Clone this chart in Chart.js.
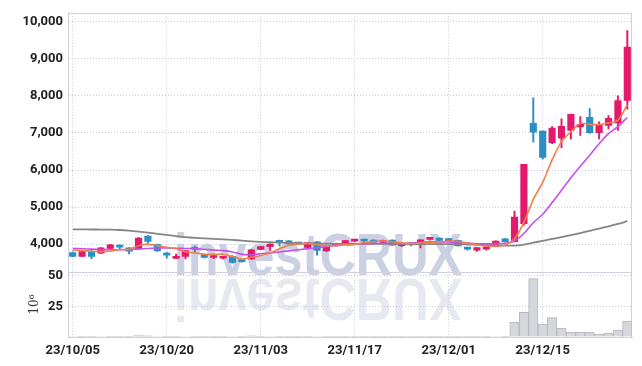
<!DOCTYPE html>
<html>
<head>
<meta charset="utf-8">
<script src="https://cdn.jsdelivr.net/npm/chart.js@4.4.0/dist/chart.umd.min.js"></script>
<style>
  html, body { margin: 0; padding: 0; background: #fff; }
</style>
</head>
<body>
<canvas id="myChart" width="642" height="366"></canvas>
<script>
// trading days shown on the x axis
var dates = ['23/10/05','23/10/06','23/10/10','23/10/11','23/10/12','23/10/13','23/10/16','23/10/17','23/10/18','23/10/19',
  '23/10/20','23/10/23','23/10/24','23/10/25','23/10/26','23/10/27','23/10/30','23/10/31','23/11/01','23/11/02',
  '23/11/03','23/11/06','23/11/07','23/11/08','23/11/09','23/11/10','23/11/13','23/11/14','23/11/15','23/11/16',
  '23/11/17','23/11/20','23/11/21','23/11/22','23/11/23','23/11/24','23/11/27','23/11/28','23/11/29','23/11/30',
  '23/12/01','23/12/04','23/12/05','23/12/06','23/12/07','23/12/08','23/12/11','23/12/12','23/12/13','23/12/14',
  '23/12/15','23/12/18','23/12/19','23/12/20','23/12/21','23/12/22','23/12/26','23/12/27','23/12/28','24/01/02'];

var opens  = [3776,3670,3795,3760,3885,3935,3900,3870,4220,3995, 3730,3615,3670,3875,3720,3640,3620,3670,3560,3600,
  3860,3935,4070,4090,4030,3910,4060,3815,3955,4010, 4080,4095,4110,4045,4110,3960,3990,3990,4130,4165,
  4150,4105,3880,3840,3865,3935,4145,4070,4550,7260, 7050,6740,6860,7065,7165,7420,7005,7200,7270,7880];
var highs  = [3790,3830,3860,3910,3995,3980,3910,4180,4230,4000, 3780,3730,3835,3950,3730,3720,3660,3690,3575,3860,
  3940,4010,4110,4100,4045,4045,4070,3925,4030,4100, 4100,4110,4115,4110,4115,4000,4040,4120,4170,4170,
  4160,4110,3910,3915,3930,4090,4150,4890,6150,7950, 7060,7170,7380,7510,7440,7660,7300,7470,8000,9760];
var lows   = [3655,3660,3610,3750,3880,3870,3740,3860,4030,3810, 3620,3612,3600,3780,3630,3610,3605,3490,3515,3590,
  3850,3830,3950,4000,3990,3905,3700,3805,3950,4005, 4060,4050,4045,4040,3970,3930,3955,3900,4110,4095,
  4075,3950,3840,3805,3840,3930,4060,4060,4515,6750, 6290,6710,6600,6830,6935,6990,6840,7110,7070,7640];
var closes = [3670,3800,3670,3900,3985,3920,3810,4165,4075,3815, 3705,3630,3830,3860,3640,3665,3650,3510,3530,3850,
  3935,4005,4050,4005,4005,4040,3830,3920,4025,4095, 4095,4085,4050,4090,3975,3985,3980,4115,4150,4100,
  4080,3955,3865,3910,3925,4085,4065,4730,6150,7020, 6340,7130,7180,7500,7235,7005,7215,7395,7875,9315];

// moving averages as drawn in the picture
var ma5  = [3840,3830,3810,3800,3810,3855,3860,3960,3995,3960, 3915,3875,3795,3765,3730,3725,3730,3665,3600,3645,
  3695,3765,3875,3970,4000,4020,3985,3960,3965,3980, 3990,4045,4070,4085,4060,4035,4015,4030,4045,4065,
  4085,4080,4030,3980,3945,3950,3970,4145,4590,5210, 5665,6275,6765,7035,7255,7230,7225,7270,7345,7760];
var ma10 = [3885,3875,3865,3855,3850,3848,3855,3870,3885,3895, 3900,3890,3885,3880,3862,3840,3825,3790,3725,3715,
  3740,3765,3790,3820,3850,3875,3905,3935,3965,3990, 4007,4015,4014,4023,4020,4014,4030,4050,4062,4063,
  4061,4048,4030,4012,4007,4017,4025,4087,4287,4579, 4805,5122,5454,5790,6100,6400,6710,6980,7170,7415];
var ma60 = [4400,4398,4396,4394,4390,4382,4365,4340,4310,4280, 4250,4215,4190,4170,4155,4142,4130,4115,4095,4075,
  4062,4052,4042,4032,4025,4020,4015,4012,4010,4010, 4010,4010,4010,4008,4006,4005,4004,4003,4002,4001,
  4000,3998,3990,3982,3975,3968,3962,3960,3990,4040, 4090,4140,4190,4245,4300,4360,4420,4480,4545,4620];

// volume, millions of shares
var volume = [0.4,0.3,0.3,0.4,0.3,0.3,0.3,1.1,1.0,0.4, 0.3,0.3,0.4,0.3,0.3,0.3,0.2,0.4,0.3,0.9,
  0.5,0.4,0.3,0.3,0.3,0.3,0.4,0.3,0.3,0.3, 0.3,0.3,0.3,0.3,0.3,0.3,0.2,0.3,0.3,0.3,
  0.3,0.3,0.3,0.3,0.3,0.4,0.5,12.1,20.2,47.6, 10.5,15.8,7.2,4.0,4.0,4.0,2.4,3.2,5.6,12.9];

// axis ticks
var priceTicks = [4000, 5000, 6000, 7000, 8000, 9000, 10000];
var volumeTicks = [0, 25, 50];

var UP = '#e31a6b';
var DOWN = '#2b8fc6';
var GRID = '#c6cbde';
var FRAME = '#cfd2dd';
var tickFont = { family: 'Roboto, sans-serif', size: 13, weight: 'bold' };

function candleColor(c) {
  var i = c.dataIndex;
  return closes[i] >= opens[i] ? UP : DOWN;
}

var wicks = dates.map(function (d, i) { return [lows[i], highs[i]]; });
var bodies = dates.map(function (d, i) { return [opens[i], closes[i]]; });

var watermark = {
  id: 'watermark',
  beforeDraw: function (chart) {
    var ctx = chart.ctx;
    ctx.save();
    ctx.font = "bold 60px 'Liberation Sans', sans-serif";
    ctx.textAlign = 'center';
    ctx.textBaseline = 'alphabetic';
    ctx.translate(318, 0);
    ctx.scale(0.84, 1);
    ctx.fillStyle = '#cbd1e3';
    ctx.fillText('investCRUX', 0, 275);
    ctx.translate(0, 2 * 277);
    ctx.scale(1, -1);
    ctx.fillStyle = '#e7e9f1';
    ctx.fillText('investCRUX', 0, 275);
    ctx.restore();
  }
};

var frame = {
  id: 'frame',
  beforeDatasetsDraw: function (chart) {
    var a = chart.chartArea, ctx = chart.ctx;
    var sep = Math.round(chart.scales.vol.top) + 0.5;
    ctx.save();
    ctx.strokeStyle = FRAME;
    ctx.lineWidth = 1;
    ctx.beginPath();
    ctx.moveTo(a.left, Math.round(a.top) + 0.5);
    ctx.lineTo(a.right, Math.round(a.top) + 0.5);
    ctx.moveTo(Math.round(a.right) - 0.5, a.top);
    ctx.lineTo(Math.round(a.right) - 0.5, a.bottom);
    ctx.moveTo(a.left, sep);
    ctx.lineTo(a.right, sep);
    ctx.stroke();
    ctx.restore();
  }
};

var ctx = document.getElementById('myChart').getContext('2d');
var myChart = new Chart(ctx, {
  type: 'bar',
  data: {
    labels: dates,
    datasets: [{
      type: 'line',
      label: 'MA5',
      data: ma5,
      yAxisID: 'y',
      borderColor: '#f28048',
      borderWidth: 1.6,
      pointRadius: 0,
      tension: 0.3,
      order: 0
    }, {
      type: 'line',
      label: 'MA10',
      data: ma10,
      yAxisID: 'y',
      borderColor: '#c650e6',
      borderWidth: 1.6,
      pointRadius: 0,
      tension: 0.3,
      order: 0
    }, {
      type: 'line',
      label: 'MA60',
      data: ma60,
      yAxisID: 'y',
      borderColor: '#858585',
      borderWidth: 1.8,
      pointRadius: 0,
      tension: 0.3,
      order: 0
    }, {
      label: 'body',
      data: bodies,
      yAxisID: 'y',
      backgroundColor: candleColor,
      borderWidth: 0,
      barThickness: 6.5,
      minBarLength: 2,
      grouped: false,
      order: 1
    }, {
      label: 'wick',
      data: wicks,
      yAxisID: 'y',
      backgroundColor: candleColor,
      borderWidth: 0,
      barThickness: 1.3,
      grouped: false,
      order: 2
    }, {
      label: 'volume',
      data: volume,
      yAxisID: 'vol',
      backgroundColor: '#d6d7dc',
      borderColor: '#b7b8c0',
      borderWidth: 1,
      barPercentage: 1,
      categoryPercentage: 1,
      grouped: false,
      order: 3
    }]
  },
  options: {
    responsive: false,
    animation: false,
    layout: { padding: { left: 0, right: 10, top: 9, bottom: 0 } },
    plugins: {
      legend: { display: false },
      tooltip: { enabled: false }
    },
    scales: {
      x: {
        offset: true,
        grid: { color: GRID, offset: false, drawTicks: false },
        border: { color: FRAME, dash: [1, 2] },
        ticks: { autoSkip: false, maxRotation: 0, padding: 6, color: '#222', font: tickFont },
        afterBuildTicks: function (s) {
          s.ticks = s.ticks.filter(function (t) { return t.value % 10 === 0; });
        },
        afterFit: function (s) { s.height = 29; }
      },
      vol: {
        position: 'left',
        stack: 'panes',
        stackWeight: 1,
        min: 0,
        max: 52.9,
        grid: { color: GRID, drawTicks: false },
        border: { color: FRAME, dash: [1, 2] },
        ticks: {
          autoSkip: false,
          padding: 5,
          color: '#222',
          font: tickFont,
          callback: function (v) { return v === 0 ? '' : String(v); }
        },
        afterBuildTicks: function (s) {
          s.ticks = volumeTicks.map(function (v) { return { value: v }; });
        },
        title: {
          display: true,
          text: '10⁶',
          color: '#333',
          font: { family: "'DejaVu Serif', serif", size: 12 },
          padding: { top: 28, bottom: 0 }
        },
        afterFit: function (s) { s.width = 68; }
      },
      y: {
        position: 'left',
        stack: 'panes',
        stackWeight: 4,
        min: 3245,
        max: 10240,
        grid: { color: GRID, drawTicks: false },
        border: { color: FRAME, dash: [1, 2] },
        ticks: { autoSkip: false, padding: 5, color: '#222', font: tickFont },
        afterBuildTicks: function (s) {
          s.ticks = priceTicks.map(function (v) { return { value: v }; });
        },
        afterFit: function (s) { s.width = 68; }
      }
    }
  },
  plugins: [watermark, frame]
});
</script>
</body>
</html>
